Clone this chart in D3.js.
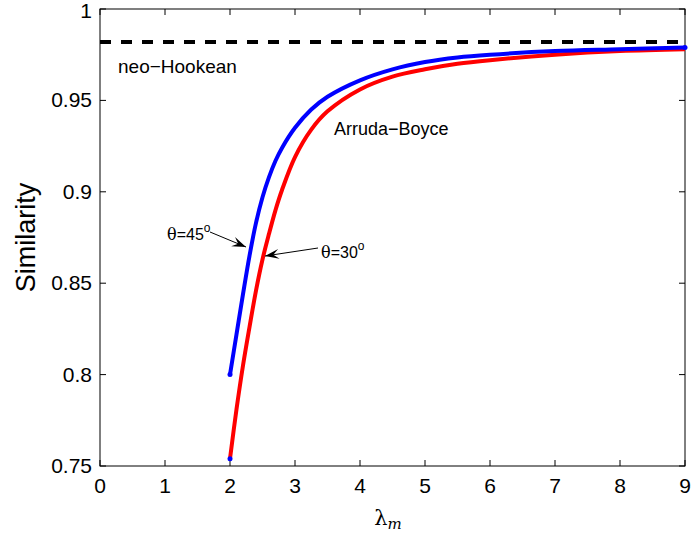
<!DOCTYPE html>
<html><head><meta charset="utf-8">
<script src="https://cdn.jsdelivr.net/npm/d3@7"></script>
<style>body{margin:0;background:#fff}svg{display:block}text{font-family:"Liberation Sans",Arial,sans-serif}</style>
</head><body><svg id="c" width="692" height="535"></svg>
<script>
const lambdaM = [2.0,2.1,2.2,2.3,2.4,2.5,2.6,2.7,2.8,3.0,3.25,3.5,4.0,4.5,5.0,5.5,6.0,7.0,8.0,9.0];
const theta45 = [0.800,0.822,0.844,0.865,0.883,0.897,0.908,0.917,0.924,0.935,0.945,0.952,0.961,0.967,0.971,0.9735,0.975,0.977,0.978,0.979];
const theta30 = [0.754,0.781,0.805,0.826,0.846,0.863,0.877,0.890,0.901,0.919,0.934,0.944,0.956,0.963,0.967,0.970,0.972,0.975,0.977,0.978];
const neoHookean = 0.982;
const xTicks = [0,1,2,3,4,5,6,7,8,9];
const yTicks = [0.75,0.8,0.85,0.9,0.95,1];

const svg = d3.select("#c");
const L=100,R=685,T=9,B=466;
const x = d3.scaleLinear().domain([0,9]).range([L,R]);
const y = d3.scaleLinear().domain([0.75,1]).range([B,T]);

svg.append("rect").attr("x",L).attr("y",T).attr("width",R-L).attr("height",B-T)
  .attr("fill","none").attr("stroke","#000").attr("stroke-width",1);

const tl=6;
const g = svg.append("g");
xTicks.forEach(t=>{
  g.append("line").attr("x1",x(t)).attr("x2",x(t)).attr("y1",B).attr("y2",B-tl).attr("stroke","#000");
  g.append("line").attr("x1",x(t)).attr("x2",x(t)).attr("y1",T).attr("y2",T+tl).attr("stroke","#000");
  g.append("text").attr("x",x(t)).attr("y",B+27).attr("text-anchor","middle").attr("font-size",21).text(String(t));
});
yTicks.forEach(t=>{
  g.append("line").attr("x1",L).attr("x2",L+tl).attr("y1",y(t)).attr("y2",y(t)).attr("stroke","#000");
  g.append("line").attr("x1",R).attr("x2",R-tl).attr("y1",y(t)).attr("y2",y(t)).attr("stroke","#000");
  g.append("text").attr("x",L-8).attr("y",Math.max(y(t)+7,18)).attr("text-anchor","end").attr("font-size",21).text(String(t));
});

svg.append("text").attr("transform",`translate(35,${(T+B)/2}) rotate(-90)`).attr("text-anchor","middle")
  .attr("font-size",27).text("Similarity");
const xl = svg.append("text").attr("x",388).attr("y",525).attr("text-anchor","middle")
  .attr("font-size",21);
xl.append("tspan").attr("font-family","DejaVu Serif").text("λ");
xl.append("tspan").attr("font-family","DejaVu Serif").attr("font-size",15).attr("dy",4).attr("font-style","italic").text("m");

svg.append("line").attr("x1",x(0)).attr("x2",x(9)).attr("y1",y(neoHookean)).attr("y2",y(neoHookean))
  .attr("stroke","#000").attr("stroke-width",4).attr("stroke-dasharray","11,10");

const line = d3.line().x((d,i)=>x(lambdaM[i])).y(d=>y(d)).curve(d3.curveCatmullRom);
svg.append("path").attr("d",line(theta30)).attr("fill","none").attr("stroke","#ff0000").attr("stroke-width",4);
svg.append("path").attr("d",line(theta45)).attr("fill","none").attr("stroke","#0000ff").attr("stroke-width",4);
[[lambdaM[0],theta45[0]],[lambdaM[0],theta30[0]],[9,theta45[theta45.length-1]]].forEach(p=>{
  svg.append("circle").attr("cx",x(p[0])).attr("cy",y(p[1])).attr("r",2.5).attr("fill","#0000ff");
});

svg.append("text").attr("x",118).attr("y",73).attr("font-size",19).text("neo\u2212Hookean");
svg.append("text").attr("x",334).attr("y",135).attr("font-size",18).text("Arruda\u2212Boyce");

function thetaLabel(xp,yp,val){
  const t = svg.append("text").attr("x",xp).attr("y",yp).attr("font-size",16);
  t.append("tspan").attr("font-family","DejaVu Serif").text("θ");
  t.append("tspan").text("="+val);
  t.append("tspan").attr("font-size",12).attr("dy",-8).text("o");
}
thetaLabel(167,240,"45");
thetaLabel(321,258,"30");

function arrow(x1,y1,x2,y2){
  svg.append("line").attr("x1",x1).attr("y1",y1).attr("x2",x2).attr("y2",y2).attr("stroke","#000").attr("stroke-width",1);
  const a=Math.atan2(y2-y1,x2-x1), len=14, w=5;
  const bx=x2-len*Math.cos(a), by=y2-len*Math.sin(a);
  const nx=-Math.sin(a), ny=Math.cos(a);
  const mx=x2-len*0.6*Math.cos(a), my=y2-len*0.6*Math.sin(a);
  svg.append("path").attr("d",`M${x2},${y2}L${bx+nx*w},${by+ny*w}L${mx},${my}L${bx-nx*w},${by-ny*w}Z`).attr("fill","#000");
}
arrow(210,232,246,247);
arrow(318,248,265,256);
</script></body></html>
